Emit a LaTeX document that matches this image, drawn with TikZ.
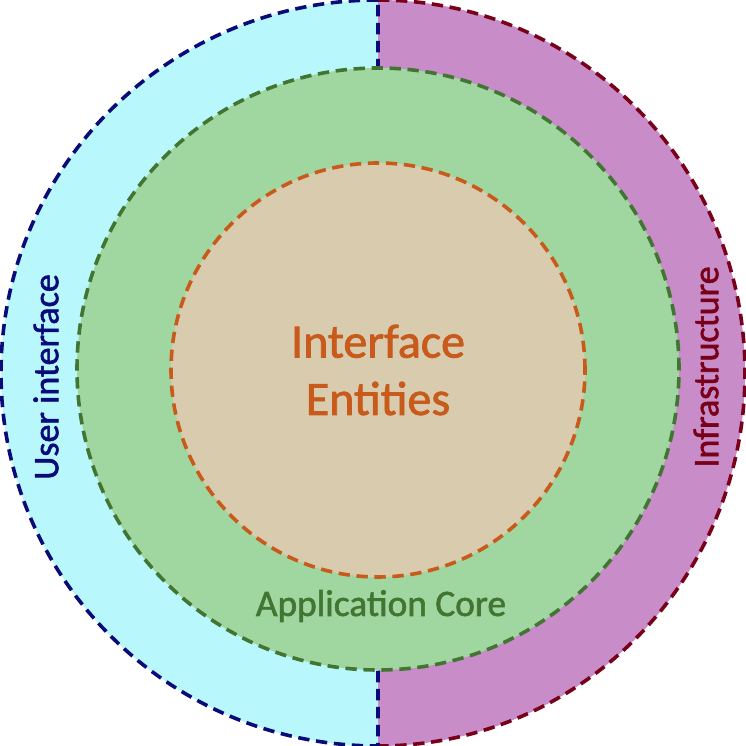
\documentclass[tikz,border=0pt]{standalone}
\usepackage{fontspec}
\setmainfont{Carlito}[FakeBold=1.6]
\definecolor{uifill}{HTML}{B8F8FC}
\definecolor{uiline}{HTML}{0A0A78}
\definecolor{infill}{HTML}{C88CC8}
\definecolor{inline}{HTML}{780018}
\definecolor{apfill}{HTML}{A0D6A0}
\definecolor{apline}{HTML}{437532}
\definecolor{cofill}{HTML}{D8CBAE}
\definecolor{coline}{HTML}{C85A1C}
\begin{document}
\begin{tikzpicture}[x=0.75pt,y=0.75pt,
  ring/.style={line width=2.7pt, dash pattern=on 8.5pt off 5pt},
  lbl/.style={inner sep=0pt}]
\useasboundingbox (0,0) rectangle (746,746);
% outer halves
\fill[uifill] (378,746) arc[start angle=90,end angle=270,x radius=377,y radius=373] -- cycle;
\fill[infill] (378,746) arc[start angle=90,end angle=-90,x radius=367,y radius=373] -- cycle;
\draw[ring,inline] (378,746) arc[start angle=90,end angle=-90,x radius=367,y radius=373];
\draw[ring,uiline] (378,746) arc[start angle=90,end angle=270,x radius=377,y radius=373] -- cycle;
% application core
\fill[apfill] (378,377) circle[radius=301];
\draw[ring,apline] (378,377) circle[radius=301];
% core
\fill[cofill] (378,376) circle[radius=207];
\draw[ring,coline] (378,376) circle[radius=207];
% labels
\node[lbl,rotate=90,text=uiline,font=\fontsize{27pt}{32pt}\selectfont] (ui) at (46,369) {User interface};
\node[lbl,rotate=90,text=inline,font=\fontsize{27pt}{32pt}\selectfont] (infra) at (706,379) {Infrastructure};
\node[lbl,text=apline,font=\fontsize{28pt}{33pt}\selectfont] (app) at (381,140) {Application Core};
\node[lbl,text=coline,align=center,font=\fontsize{36pt}{43pt}\selectfont] (core) at (378,376) {Interface\\Entities};
\end{tikzpicture}
\end{document}
